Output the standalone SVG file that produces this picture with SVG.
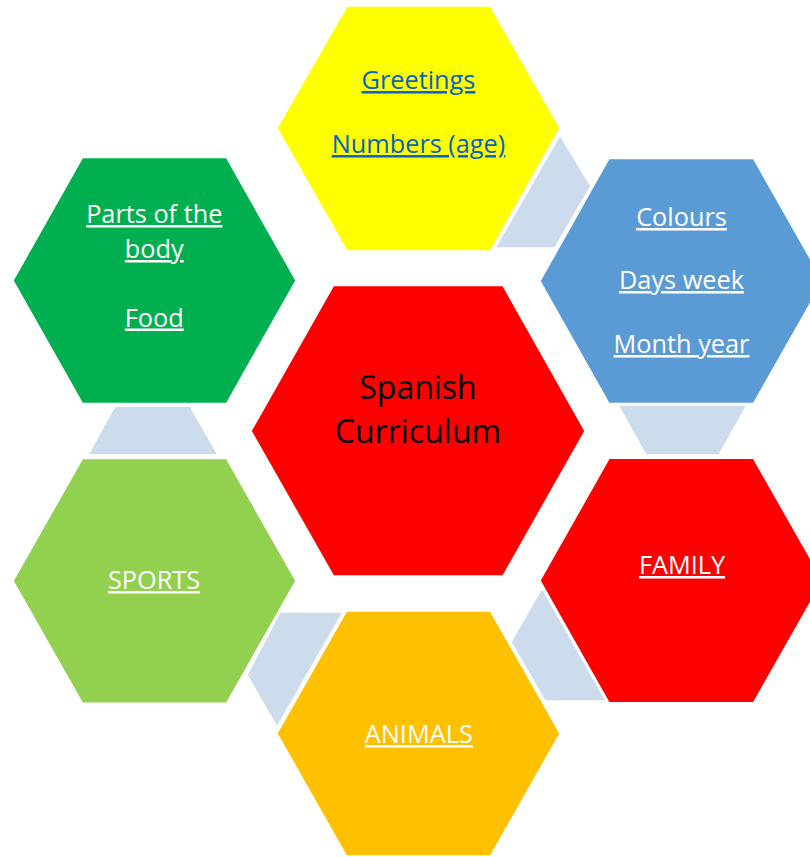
<svg xmlns="http://www.w3.org/2000/svg" width="810" height="857" viewBox="0 0 810 857">
<style>
.hex{stroke:#FFFFFF;stroke-width:1.5}
.conn{fill:#CDDCEC;stroke:#FFFFFF;stroke-width:1.5}
.t{font-family:"Open Sans","Noto Sans","DejaVu Sans",sans-serif;font-size:25.3px;text-anchor:middle;text-decoration:underline;fill:#FFFFFF}
.link{fill:#0563C1}
.main{font-family:"Open Sans","Noto Sans","DejaVu Sans",sans-serif;font-size:32px;text-anchor:middle;fill:#000000}
</style>
<rect width="810" height="857" fill="#FFFFFF"/>
<g id="connectors">
<polygon class="conn" points="560,135 591,186 555,248 495,248"/>
<polygon class="conn" points="618,405 747,405 719,455 646,455"/>
<polygon class="conn" points="542,588 511,642 545,701 606,701"/>
<polygon class="conn" points="280,612 343,612 277,727 247,675"/>
<polygon class="conn" points="115,406 190,406 218,455 88,455"/>
</g>
<g id="center">
<polygon class="hex" fill="#FF0000" points="333.5,285.5 503,285.5 585,431 503,576 333.5,576 251,431"/>
<text class="main" x="418" y="399">Spanish</text>
<text class="main" x="418" y="443">Curriculum</text>
</g>
<g id="greetings">
<polygon class="hex" fill="#FFFF00" points="347,6 490.5,6 560,128 490.5,251 347,251 277,128"/>
<text class="t link" x="418.5" y="89">Greetings</text>
<text class="t link" x="418.5" y="153">Numbers (age)</text>
</g>
<g id="colours">
<polygon class="hex" fill="#5B9BD5" points="609,158.5 753.5,158.5 823,281 753.5,403.5 609,403.5 540,281"/>
<text class="t" x="681.5" y="226">Colours</text>
<text class="t" x="681.5" y="289">Days week</text>
<text class="t" x="681.5" y="353">Month year</text>
</g>
<g id="family">
<polygon class="hex" fill="#FF0000" points="609,458.3 753.5,458.3 823,580.5 753.5,702.8 609,702.8 540,580.5"/>
<text class="t" x="682" y="574">FAMILY</text>
</g>
<g id="animals">
<polygon class="hex" fill="#FFC000" points="346.5,611 490.5,611 560,733.5 490.5,856 346.5,856 277,733.5"/>
<text class="t" x="418.8" y="743">ANIMALS</text>
</g>
<g id="sports">
<polygon class="hex" fill="#92D050" points="82.5,458.5 226.5,458.5 296,580.8 226.5,703.3 82.5,703.3 13,580.8"/>
<text class="t" x="154" y="589">SPORTS</text>
</g>
<g id="body">
<polygon class="hex" fill="#00B050" points="82.5,157.5 226.5,157.5 296,280.5 226.5,403.5 82.5,403.5 13,280.5"/>
<text class="t" x="154.3" y="223">Parts of the</text>
<text class="t" x="154.3" y="258">body</text>
<text class="t" x="154.3" y="326.5">Food</text>
</g>
</svg>
